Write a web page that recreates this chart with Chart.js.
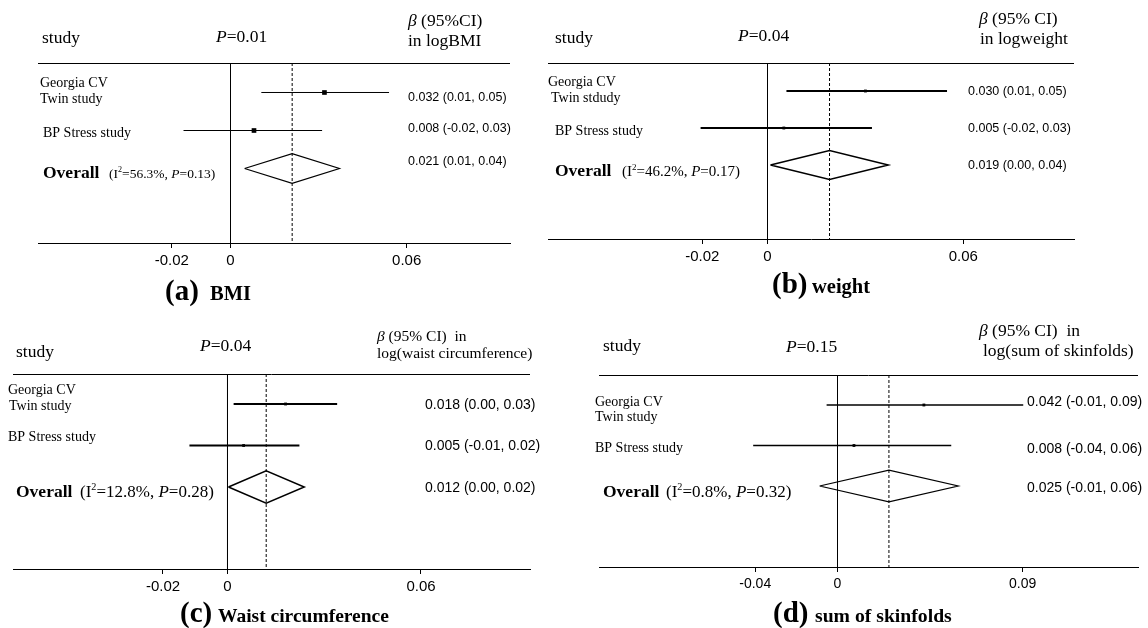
<!DOCTYPE html>
<html>
<head>
<meta charset="utf-8">
<script src="https://cdn.jsdelivr.net/npm/chart.js@4.4.1/dist/chart.umd.min.js"></script>
<style>
html, body { margin: 0; padding: 0; background: #fff; }
#wrap { position: relative; width: 1148px; height: 628px; overflow: hidden; }
#wrap canvas { position: absolute; left: 0; top: 0; }
</style>
</head>
<body>
<div id="wrap">
  <canvas id="panel0" width="1148" height="628"></canvas>
  <canvas id="panel1" width="1148" height="628"></canvas>
  <canvas id="panel2" width="1148" height="628"></canvas>
  <canvas id="panel3" width="1148" height="628"></canvas>
</div>
<script>
// ---- data ----
const panelKeys  = ['(a)', '(b)', '(c)', '(d)'];
const panelNames = ['BMI', 'weight', 'Waist circumference', 'sum of skinfolds'];
const overallP   = ['0.01', '0.04', '0.04', '0.15'];
const headLine1  = ['(95%CI)', '(95% CI)', '(95% CI)  in', '(95% CI)  in'];
const headLine2  = ['in logBMI', 'in logweight', 'log(waist circumference)', 'log(sum of skinfolds)'];
const twinNames  = ['Twin study', 'Twin stdudy', 'Twin study', 'Twin study'];
const i2Values   = ['56.3%', '46.2%', '12.8%', '0.8%'];
const hetP       = ['0.13', '0.17', '0.28', '0.32'];

const twinEst  = [0.032, 0.030, 0.018, 0.042];
const twinLow  = [0.0105, 0.0058, 0.0019, -0.0053];
const twinHigh = [0.054, 0.055, 0.034, 0.0903];
const bpEst    = [0.008, 0.005, 0.005, 0.008];
const bpLow    = [-0.016, -0.0205, -0.0118, -0.041];
const bpHigh   = [0.0312, 0.032, 0.0223, 0.0553];
const allEst   = [0.021, 0.019, 0.012, 0.025];
const allLow   = [0.0048, 0.0009, 0.0003, -0.0087];
const allHigh  = [0.0371, 0.037, 0.0238, 0.0587];

const twinText = ['0.032 (0.01, 0.05)', '0.030 (0.01, 0.05)', '0.018 (0.00, 0.03)', '0.042 (-0.01, 0.09)'];
const bpText   = ['0.008 (-0.02, 0.03)', '0.005 (-0.02, 0.03)', '0.005 (-0.01, 0.02)', '0.008 (-0.04, 0.06)'];
const allText  = ['0.021 (0.01, 0.04)', '0.019 (0.00, 0.04)', '0.012 (0.00, 0.02)', '0.025 (-0.01, 0.06)'];
const tickSets = [[-0.02, 0, 0.06], [-0.02, 0, 0.06], [-0.02, 0, 0.06], [-0.04, 0, 0.09]];

// row positions on the hidden y scale
const ROW_TWIN = 1, ROW_BP = 2, ROW_ALL = 3;
const DIAMOND_H = 0.39;
const AXIS_H = 40;

// ---- layout of each panel (page pixels) ----
const frames = [
    { left: 38, right: 510, top: 63, axis: 243, xMin: -0.06557, xMax: 0.0952, yMin: 0.2237, yMax: 4.9605,
      ciWidth: 1, markR: 3.3, tickSize: 15, headSize: 17.5, betaSize: 17.5, hetSize: 13.5, valSize: 12.5,
      study: [42, 43], p: [216, 42], b1: [408, 26], b2: [408, 46],
      georgia: [40, 87], twin: [40, 103], bp: [43, 137], overall: [43, 178], het: [109, 178],
      valX: 408, valY: [98, 129, 162], key: [165, 300], name: [210, 300], nameSize: 20.5 },
    { left: 548, right: 1074, top: 63, axis: 239, xMin: -0.06725, xMax: 0.0939, yMin: 0.243, yMax: 4.999,
      ciWidth: 2, markR: 2, tickSize: 15, headSize: 17.5, betaSize: 17.5, hetSize: 15, valSize: 12.5,
      study: [555, 43], p: [738, 41], b1: [979, 24], b2: [980, 44],
      georgia: [548, 86], twin: [551, 102], bp: [555, 135], overall: [555, 176], het: [622, 176],
      valX: 968, valY: [92, 129, 166], key: [772, 293], name: [812, 293], nameSize: 20.5 },
    { left: 13, right: 530, top: 374, axis: 569, xMin: -0.06651, xMax: 0.0938, yMin: 0.277, yMax: 4.976,
      ciWidth: 1.8, markR: 2, tickSize: 15, headSize: 17.5, betaSize: 15.5, hetSize: 17, valSize: 14,
      study: [16, 357], p: [200, 351], b1: [377, 341], b2: [377, 358],
      georgia: [8, 394], twin: [9, 410], bp: [8, 441], overall: [16, 497], het: [80, 497],
      valX: 425, valY: [405, 446, 488], key: [180, 622], name: [218, 622], nameSize: 19.5 },
    { left: 599, right: 1138, top: 375, axis: 567, xMin: -0.11596, xMax: 0.1461, yMin: 0.259, yMax: 5.0,
      ciWidth: 1.3, markR: 2, tickSize: 14, headSize: 17.5, betaSize: 17.5, hetSize: 17, valSize: 14,
      study: [603, 351], p: [786, 352], b1: [979, 336], b2: [983, 356],
      georgia: [595, 406], twin: [595, 421], bp: [595, 452], overall: [603, 497], het: [666, 497],
      valX: 1027, valY: [402, 449, 488], key: [773, 622], name: [815, 622], nameSize: 19.7 }
];

const serif = (size, style) => `${style || ''} ${size}px "Liberation Serif", "Times New Roman", serif`;
const sans = (size) => `${size}px "Liberation Sans", Arial, sans-serif`;

// draw a line of text made of several font runs
function drawRuns(ctx, x, y, runs) {
    let cx = x;
    runs.forEach(r => {
        ctx.font = r.font;
        ctx.fillText(r.t, cx, y + (r.dy || 0));
        cx += ctx.measureText(r.t).width;
    });
}

function textPlugin(i) {
    const f = frames[i];
    return {
        id: 'forestText' + i,
        afterDraw(chart) {
            const ctx = chart.ctx;
            const area = chart.chartArea;
            ctx.save();
            // header rule
            ctx.strokeStyle = '#000';
            ctx.lineWidth = 1;
            ctx.beginPath();
            ctx.moveTo(area.left, Math.round(area.top) + 0.5);
            ctx.lineTo(area.right, Math.round(area.top) + 0.5);
            ctx.stroke();

            ctx.fillStyle = '#000';
            ctx.textAlign = 'left';
            ctx.textBaseline = 'alphabetic';

            ctx.font = serif(f.headSize);
            ctx.fillText('study', f.study[0], f.study[1]);
            drawRuns(ctx, f.p[0], f.p[1], [
                { t: 'P', font: serif(f.headSize, 'italic') },
                { t: '=' + overallP[i], font: serif(f.headSize) }
            ]);
            drawRuns(ctx, f.b1[0], f.b1[1], [
                { t: 'β', font: serif(f.betaSize, 'italic') },
                { t: ' ' + headLine1[i], font: serif(f.betaSize) }
            ]);
            ctx.font = serif(f.betaSize);
            ctx.fillText(headLine2[i], f.b2[0], f.b2[1]);

            ctx.font = serif(14);
            ctx.fillText('Georgia CV', f.georgia[0], f.georgia[1]);
            ctx.fillText(twinNames[i], f.twin[0], f.twin[1]);
            ctx.fillText('BP Stress study', f.bp[0], f.bp[1]);

            ctx.font = serif(17.5, 'bold');
            ctx.fillText('Overall', f.overall[0], f.overall[1]);
            const hs = f.hetSize;
            drawRuns(ctx, f.het[0], f.het[1], [
                { t: '(I', font: serif(hs) },
                { t: '2', font: serif(hs * 0.6), dy: -hs * 0.42 },
                { t: '=' + i2Values[i] + ', ', font: serif(hs) },
                { t: 'P', font: serif(hs, 'italic') },
                { t: '=' + hetP[i] + ')', font: serif(hs) }
            ]);

            ctx.textBaseline = 'middle';
            ctx.font = sans(f.valSize);
            ctx.fillText(twinText[i], f.valX, f.valY[0]);
            ctx.fillText(bpText[i], f.valX, f.valY[1]);
            ctx.fillText(allText[i], f.valX, f.valY[2]);

            ctx.textBaseline = 'alphabetic';
            ctx.font = serif(29, 'bold');
            ctx.fillText(panelKeys[i], f.key[0], f.key[1]);
            ctx.font = serif(f.nameSize, 'bold');
            ctx.fillText(panelNames[i], f.name[0], f.name[1]);
            ctx.restore();
        }
    };
}

function lineSet(points, width, dash) {
    return {
        data: points,
        showLine: true,
        borderColor: '#000',
        borderWidth: width,
        borderDash: dash || [],
        pointRadius: 0,
        fill: false
    };
}

frames.forEach((f, i) => {
    const datasets = [
        // no-effect line
        lineSet([{ x: 0, y: f.yMin }, { x: 0, y: f.yMax }], 1),
        // pooled estimate
        lineSet([{ x: allEst[i], y: f.yMin }, { x: allEst[i], y: f.yMax }], 1, [3, 2]),
        // study CIs
        lineSet([{ x: twinLow[i], y: ROW_TWIN }, { x: twinHigh[i], y: ROW_TWIN }], f.ciWidth),
        lineSet([{ x: bpLow[i], y: ROW_BP }, { x: bpHigh[i], y: ROW_BP }], f.ciWidth),
        // overall diamond
        lineSet([
            { x: allLow[i], y: ROW_ALL },
            { x: allEst[i], y: ROW_ALL - DIAMOND_H },
            { x: allHigh[i], y: ROW_ALL },
            { x: allEst[i], y: ROW_ALL + DIAMOND_H },
            { x: allLow[i], y: ROW_ALL }
        ], f.ciWidth > 1.5 ? 1.5 : 1.2),
        // point estimates
        {
            data: [{ x: twinEst[i], y: ROW_TWIN }, { x: bpEst[i], y: ROW_BP }],
            showLine: false,
            pointStyle: 'rect',
            pointRadius: f.markR,
            pointBackgroundColor: '#000',
            pointBorderColor: '#000',
            pointBorderWidth: 0
        }
    ];

    new Chart(document.getElementById('panel' + i), {
        type: 'scatter',
        data: { datasets },
        options: {
            responsive: false,
            animation: false,
            events: [],
            layout: {
                padding: { left: f.left, right: 1148 - f.right, top: f.top, bottom: 628 - f.axis - AXIS_H }
            },
            plugins: { legend: { display: false }, tooltip: { enabled: false } },
            scales: {
                x: {
                    type: 'linear',
                    min: f.xMin,
                    max: f.xMax,
                    afterBuildTicks: (scale) => { scale.ticks = tickSets[i].map(v => ({ value: v })); },
                    afterFit: (scale) => { scale.height = AXIS_H; },
                    grid: { display: true, drawOnChartArea: false, drawTicks: true, tickLength: 5, color: '#000' },
                    border: { display: true, color: '#000', width: 1 },
                    ticks: {
                        color: '#000',
                        autoSkip: false,
                        maxRotation: 0,
                        padding: 4,
                        font: { family: '"Liberation Sans", Arial, sans-serif', size: f.tickSize },
                        callback: (v) => String(v)
                    }
                },
                y: { type: 'linear', display: false, reverse: true, min: f.yMin, max: f.yMax }
            }
        },
        plugins: [textPlugin(i)]
    });
});
</script>
</body>
</html>
